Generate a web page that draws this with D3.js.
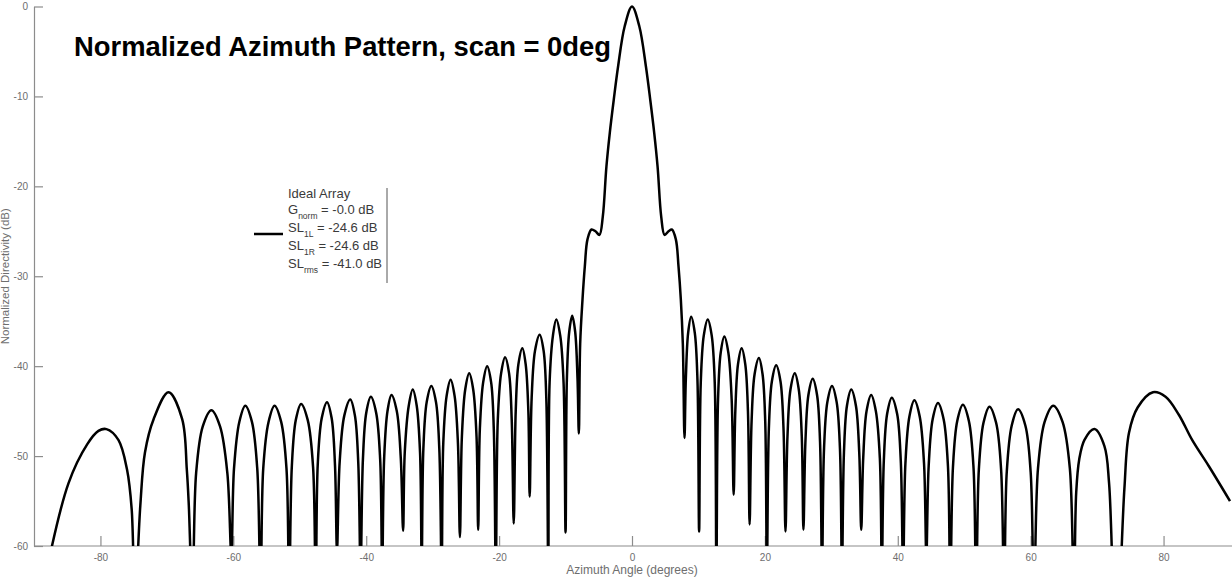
<!DOCTYPE html>
<html>
<head>
  <meta charset="utf-8">
  <title>Normalized Azimuth Pattern</title>
  <script src="https://d3js.org/d3.v7.min.js" charset="utf-8"></script>
  <style>
    body { margin: 0; background: #fff; }
    text { font-family: "Liberation Sans", Arial, sans-serif; }
  </style>
</head>
<body>
<div id="chart"></div>
<script>
  // ---- data: [azimuth deg, normalized dB] ----
  var xTicks = [-80, -60, -40, -20, 0, 20, 40, 60, 80];
  var yTicks = [-60, -50, -40, -30, -20, -10, 0];

  var farLeftLobes = [
    [-88.0, -62.4], [-84.8, -53.0], [-82.0, -48.7], [-80.3, -47.2], [-79.1, -47.0],
    [-77.3, -48.2], [-76.0, -51.5], [-75.3, -55.9], [-74.8, -66],
    [-74.0, -55.5], [-73.3, -49.6], [-72.0, -45.9], [-69.75, -42.9], [-67.7, -45.9],
    [-67.0, -51.5], [-66.7, -55.5]
  ];

  var leftSidelobes = [
    [-66.15, -66],
    [-65.6, -51.9], [-64.6, -46.7], [-63.3, -44.9], [-62.0, -46.7], [-60.9, -51.9],
    [-60.3, -61],
    [-59.9, -51.4], [-59.1, -46.2], [-58.2, -44.4], [-57.2, -46.2], [-56.4, -51.4],
    [-55.9, -66],
    [-55.5, -51.4], [-54.7, -46.2], [-53.8, -44.4], [-52.8, -46.2], [-52.0, -51.4],
    [-51.6, -66],
    [-51.2, -51.2], [-50.6, -46.0], [-49.8, -44.2], [-48.8, -46.0], [-48.0, -51.2],
    [-47.6, -66],
    [-47.3, -51.0], [-46.7, -45.8], [-45.9, -44.0], [-45.2, -45.8], [-44.7, -51.0],
    [-44.4, -60.5],
    [-44.0, -50.7], [-43.3, -45.5], [-42.4, -43.7], [-41.7, -45.5], [-41.2, -50.7],
    [-40.85, -63],
    [-40.5, -50.4], [-40.0, -45.2], [-39.3, -43.4], [-38.5, -45.2], [-37.9, -50.4],
    [-37.6, -63],
    [-37.3, -50.2], [-36.8, -45.0], [-36.2, -43.2], [-35.4, -45.0], [-34.8, -50.2],
    [-34.45, -58.3],
    [-34.2, -49.6], [-33.6, -44.4], [-33.0, -42.6], [-32.4, -44.4], [-31.9, -49.6],
    [-31.65, -62],
    [-31.4, -49.2], [-30.9, -44.0], [-30.2, -42.2], [-29.5, -44.0], [-29.0, -49.2],
    [-28.65, -63],
    [-28.4, -48.5], [-27.9, -43.3], [-27.3, -41.5], [-26.7, -43.3], [-26.2, -48.5],
    [-25.9, -59.0],
    [-25.6, -47.8], [-25.1, -42.6], [-24.5, -40.8], [-23.9, -42.6], [-23.4, -47.8],
    [-23.15, -58.2],
    [-22.9, -47.0], [-22.4, -41.8], [-21.8, -40.0], [-21.2, -41.8], [-20.8, -47.0],
    [-20.5, -63],
    [-20.2, -46.0], [-19.7, -40.8], [-19.1, -39.0], [-18.5, -40.8], [-18.1, -46.0],
    [-17.8, -57.5],
    [-17.5, -45.0], [-17.1, -39.8], [-16.5, -38.0], [-16.0, -39.8], [-15.6, -45.0],
    [-15.4, -54.5],
    [-15.1, -43.5], [-14.6, -38.3], [-13.9, -36.5], [-13.3, -38.3], [-12.9, -43.5],
    [-12.6, -63],
    [-12.4, -41.8], [-11.9, -36.6], [-11.4, -34.8], [-10.8, -36.6], [-10.3, -41.8],
    [-10.0, -58.5],
    [-9.8, -41.4], [-9.45, -36.2], [-9.0, -34.4], [-8.55, -36.2], [-8.2, -41.4]
  ];

  var mainBeam = [
    [-8.0, -47.5], [-7.8, -37.5], [-7.45, -32.6], [-7.1, -28.9], [-6.7, -25.9],
    [-6.1, -24.8], [-5.5, -25.0], [-4.9, -25.4], [-4.4, -23.4], [-3.85, -17.8],
    [-3.35, -14.1], [-2.75, -10.4], [-2.1, -6.7], [-1.1, -2.2], [0, 0],
    [1.1, -2.2], [2.1, -6.7], [2.75, -10.4], [3.35, -14.1], [3.85, -17.8],
    [4.4, -23.4], [4.9, -25.4], [5.5, -25.0], [6.0, -24.8], [6.6, -25.9],
    [7.0, -28.9], [7.35, -32.6], [7.65, -37.5], [7.9, -48.0]
  ];

  var rightSidelobes = [
    [8.1, -41.5], [8.45, -36.3], [8.9, -34.5], [9.45, -36.3], [9.85, -41.5],
    [10.1, -58.4],
    [10.35, -41.8], [10.8, -36.6], [11.4, -34.8], [12.0, -36.6], [12.45, -41.8],
    [12.7, -63],
    [12.95, -43.7], [13.35, -38.5], [13.9, -36.7], [14.5, -38.5], [15.0, -43.7],
    [15.3, -54.3],
    [15.55, -45.0], [15.95, -39.8], [16.5, -38.0], [17.05, -39.8], [17.45, -45.0],
    [17.7, -57.6],
    [18.0, -46.1], [18.45, -40.9], [19.1, -39.1], [19.65, -40.9], [20.05, -46.1],
    [20.3, -63],
    [20.6, -46.9], [21.05, -41.7], [21.7, -39.9], [22.35, -41.7], [22.8, -46.9],
    [23.1, -58.4],
    [23.4, -47.8], [23.85, -42.6], [24.5, -40.8], [25.1, -42.6], [25.55, -47.8],
    [25.8, -58.2],
    [26.1, -48.4], [26.55, -43.2], [27.2, -41.4], [27.85, -43.2], [28.3, -48.4],
    [28.6, -63],
    [28.9, -49.2], [29.4, -44.0], [30.1, -42.2], [30.8, -44.0], [31.3, -49.2],
    [31.6, -63],
    [31.9, -49.6], [32.35, -44.4], [33.0, -42.6], [33.7, -44.4], [34.2, -49.6],
    [34.5, -58.2],
    [34.8, -50.2], [35.3, -45.0], [36.0, -43.2], [36.7, -45.0], [37.3, -50.2],
    [37.6, -63],
    [37.9, -50.5], [38.4, -45.3], [39.1, -43.5], [39.9, -45.3], [40.45, -50.5],
    [40.8, -63],
    [41.15, -50.8], [41.75, -45.6], [42.5, -43.8], [43.3, -45.6], [43.95, -50.8],
    [44.3, -61],
    [44.65, -51.1], [45.25, -45.9], [46.05, -44.1], [46.9, -45.9], [47.55, -51.1],
    [47.9, -66],
    [48.3, -51.3], [48.95, -46.1], [49.8, -44.3], [50.7, -46.1], [51.4, -51.3],
    [51.8, -66],
    [52.2, -51.5], [52.9, -46.3], [53.8, -44.5], [54.8, -46.3], [55.55, -51.5],
    [56.0, -66],
    [56.4, -51.8], [57.15, -46.6], [58.1, -44.8], [59.2, -46.6], [60.0, -51.8],
    [60.5, -66],
    [61.1, -51.4], [62.1, -46.2], [63.4, -44.4], [64.8, -46.2], [65.9, -51.4],
    [66.5, -66]
  ];

  var farRightLobes = [
    [66.85, -54.1], [67.3, -50.4], [68.1, -48.2], [69.6, -47.0], [71.1, -48.9],
    [71.8, -53.0], [72.85, -72],
    [74.1, -53.7], [74.8, -47.4], [76.1, -44.6], [78.4, -42.9], [80.3, -43.4],
    [82.3, -45.4], [84.3, -48.2], [86.8, -51.1], [90.0, -55.0]
  ];

  var legendRows = [
    { main: "Ideal Array", sub: "", rest: "" },
    { main: "G", sub: "norm", rest: " = -0.0 dB" },
    { main: "SL", sub: "1L", rest: " = -24.6 dB" },
    { main: "SL", sub: "1R", rest: " = -24.6 dB" },
    { main: "SL", sub: "rms", rest: " = -41.0 dB" }
  ];
  var legendRowY = [0, 15.5, 33.5, 52, 70];

  var pattern = farLeftLobes.concat(leftSidelobes, mainBeam, rightSidelobes, farRightLobes);

  // ---- layout ----
  var W = 1232, H = 577;
  var plotL = 34, plotR = 1230, plotT = 6.5, plotB = 546;

  var svg = d3.select("#chart").append("svg")
    .attr("width", W)
    .attr("height", H)
    .style("display", "block");

  svg.append("rect").attr("width", W).attr("height", H).attr("fill", "#fff");

  var x = d3.scaleLinear().domain([-90, 90]).range([plotL, plotR]);
  var y = d3.scaleLinear().domain([-60, 0]).range([plotB, plotT]);

  // axes (ticks point inward like the original)
  var xAxis = d3.axisBottom(x).tickValues(xTicks).tickSizeInner(-10).tickSizeOuter(0)
    .tickPadding(8).tickFormat(function(d) { return String(d); });
  var yAxis = d3.axisLeft(y).tickValues(yTicks).tickSizeInner(-9).tickSizeOuter(0)
    .tickPadding(6).tickFormat(function(d) { return String(d); });

  var gx = svg.append("g").attr("transform", "translate(0," + plotB + ")").call(xAxis);
  var gy = svg.append("g").attr("transform", "translate(" + plotL + ",0)").call(yAxis);

  [gx, gy].forEach(function(g) {
    g.select(".domain").attr("stroke", "#8c8c8c").attr("stroke-width", 1.2);
    g.selectAll(".tick line").attr("stroke", "#8c8c8c").attr("stroke-width", 1.2);
    g.selectAll(".tick text")
      .attr("fill", "#6e6e6e")
      .style("font-size", "10px")
      .style("font-family", "'Liberation Sans', Arial, sans-serif");
  });
  gx.select(".domain").attr("d", "M" + plotL + ",0H" + W);

  // axis titles
  svg.append("text")
    .attr("x", x(0))
    .attr("y", 574)
    .attr("text-anchor", "middle")
    .attr("fill", "#6e6e6e")
    .style("font-size", "12px")
    .text("Azimuth Angle (degrees)");

  svg.append("text")
    .attr("transform", "translate(9," + ((plotT + plotB) / 2) + ") rotate(-90)")
    .attr("text-anchor", "middle")
    .attr("fill", "#6e6e6e")
    .style("font-size", "11.5px")
    .text("Normalized Directivity (dB)");

  // pattern line, clipped to the plot box
  svg.append("clipPath").attr("id", "plotclip")
    .append("rect")
    .attr("x", plotL).attr("y", 0)
    .attr("width", W - plotL).attr("height", plotB);

  var line = d3.line()
    .x(function(d) { return x(d[0]); })
    .y(function(d) { return y(d[1]); })
    .curve(d3.curveCatmullRom.alpha(0.5));

  svg.append("path")
    .datum(pattern)
    .attr("clip-path", "url(#plotclip)")
    .attr("d", line)
    .attr("fill", "none")
    .attr("stroke", "#000")
    .attr("stroke-width", 2.5)
    .attr("stroke-linejoin", "round");

  // title
  svg.append("text")
    .attr("x", 74)
    .attr("y", 56)
    .attr("fill", "#000")
    .style("font-size", "27.4px")
    .style("font-weight", "bold")
    .text("Normalized Azimuth Pattern, scan = 0deg");

  // legend
  var lg = svg.append("g").attr("transform", "translate(288,198)");
  lg.append("line")
    .attr("x1", -34).attr("x2", -5)
    .attr("y1", 36).attr("y2", 36)
    .attr("stroke", "#000").attr("stroke-width", 2.5);
  lg.append("line")
    .attr("x1", 99).attr("x2", 99)
    .attr("y1", -10).attr("y2", 85)
    .attr("stroke", "#555").attr("stroke-width", 1);

  legendRows.forEach(function(r, i) {
    var t = lg.append("text")
      .attr("x", 0)
      .attr("y", legendRowY[i])
      .attr("fill", "#3a3a3a")
      .style("font-size", "13px");
    t.append("tspan").text(r.main);
    if (r.sub) {
      t.append("tspan").attr("dy", 5).style("font-size", "8.5px").text(r.sub);
      t.append("tspan").attr("dy", -5).text(r.rest);
    }
  });
</script>
</body>
</html>
